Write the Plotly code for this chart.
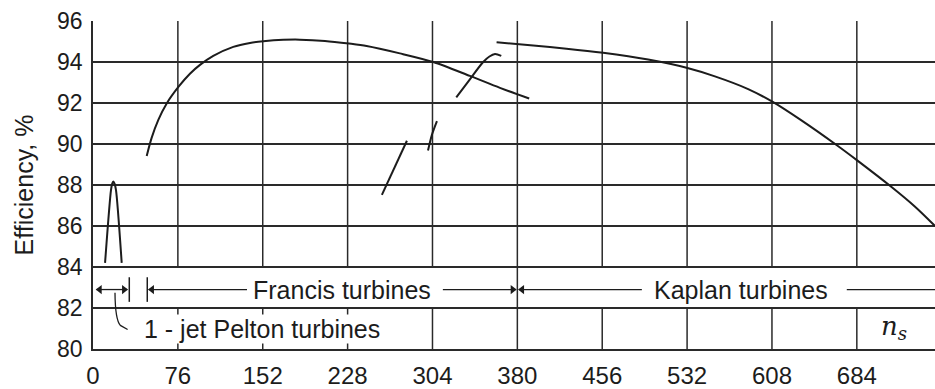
import plotly.graph_objects as go

# Specific speed grid and efficiency axis
x_ticks = [0, 76, 152, 228, 304, 380, 456, 532, 608, 684]
y_ticks = [80, 82, 84, 86, 88, 90, 92, 94, 96]

# 1-jet Pelton turbine efficiency
pelton_ns = [10.8, 16.1, 17.2, 18.2, 19.3, 20.6, 25.7]
pelton_eff = [84.2, 87.75, 88.07, 88.17, 88.07, 87.75, 84.2]

# Francis turbine envelope
francis_ns = [48.1, 52.5, 58.5, 66.0, 77.0, 86.8, 95.8, 107.7, 125.6, 140.6, 152.5, 170.4,
              185.3, 207.7, 229.2, 245.0, 274.8, 304.7, 337.5, 364.4, 390.6]
francis_eff = [89.42, 90.30, 91.18, 91.98, 92.82, 93.43, 93.86, 94.30, 94.74, 94.93, 95.01, 95.08,
               95.09, 95.03, 94.90, 94.78, 94.42, 94.00, 93.32, 92.74, 92.22]

# Short Francis / transition strokes
stroke_a_ns = [258.7, 281.1]
stroke_a_eff = [87.52, 90.16]
stroke_b_ns = [300, 303.5, 308]
stroke_b_eff = [89.68, 90.45, 91.12]
stroke_c_ns = [325.3, 337, 349.2, 355, 360, 365.6]
stroke_c_eff = [92.27, 93.12, 93.99, 94.27, 94.39, 94.3]

# Kaplan turbine envelope
kaplan_ns = [361.4, 394.2, 424.0, 456.8, 497.1, 531.5, 556.9, 586.7, 609.1, 634.4,
             665.8, 684.3, 715.1, 735.9, 754.0]
kaplan_eff = [94.96, 94.80, 94.65, 94.45, 94.12, 93.72, 93.30, 92.68, 92.04, 91.15,
              89.95, 89.20, 87.90, 86.95, 86.00]

# Range labels
range_labels = ["Francis turbines", "Kaplan turbines", "1 - jet Pelton turbines"]

X_MAX = 754
BAND_Y = 82.9
INK = "#1c1c1c"
GRID = "#2a2a2a"
FONT = "Liberation Sans, Arial, sans-serif"

fig = go.Figure()

curves = [
    (pelton_ns, pelton_eff),
    (francis_ns, francis_eff),
    (stroke_a_ns, stroke_a_eff),
    (stroke_b_ns, stroke_b_eff),
    (stroke_c_ns, stroke_c_eff),
    (kaplan_ns, kaplan_eff),
]
for xs, ys in curves:
    fig.add_trace(go.Scatter(
        x=xs, y=ys, mode="lines",
        line=dict(color=INK, width=2, shape="spline", smoothing=0.8),
        hoverinfo="skip", showlegend=False,
    ))

shapes = []
# vertical grid: full in the upper field, interrupted by the label band (82-84)
for v in x_ticks[1:]:
    spans = [(80, 96)] if v == 380 else [(84, 96), (80, 82)]
    for y0, y1 in spans:
        shapes.append(dict(type="line", x0=v, x1=v, y0=y0, y1=y1,
                           line=dict(color=GRID, width=1.5), layer="below"))

# dimension lines in the label band: (start, end)
band_lines = [(3.2, 30.6), (50.0, 137.9), (313.3, 378.6), (381.4, 491.5), (675, X_MAX)]
for x0, x1 in band_lines:
    shapes.append(dict(type="line", x0=x0, x1=x1, y0=BAND_Y, y1=BAND_Y,
                       line=dict(color=INK, width=1.3), layer="above"))
# bars marking the Pelton / Francis limits
for v in [32.5, 48.6]:
    shapes.append(dict(type="line", x0=v, x1=v, y0=82.3, y1=83.5,
                       line=dict(color=INK, width=1.5), layer="above"))
# leader from the Pelton arrow to its label
shapes.append(dict(type="path",
                   path="M 19.7,82.75 C 19.8,82.0 20.5,81.4 24.5,81.15 L 31,80.95",
                   line=dict(color=INK, width=1.3), layer="above"))
fig.update_layout(shapes=shapes)

# arrowheads on the dimension lines (marker centres sit just inside each tip)
left_heads = [6.0, 52.8, 384.2]
right_heads = [27.8, 375.8]
fig.add_trace(go.Scatter(
    x=left_heads, y=[BAND_Y] * len(left_heads), mode="markers",
    marker=dict(symbol="triangle-left", size=8, color=INK, line=dict(width=0)),
    hoverinfo="skip", showlegend=False, cliponaxis=False,
))
fig.add_trace(go.Scatter(
    x=right_heads, y=[BAND_Y] * len(right_heads), mode="markers",
    marker=dict(symbol="triangle-right", size=8, color=INK, line=dict(width=0)),
    hoverinfo="skip", showlegend=False, cliponaxis=False,
))

annotations = [
    dict(x=223.4, y=BAND_Y, text=range_labels[0]),
    dict(x=580, y=BAND_Y, text=range_labels[1]),
    dict(x=44.8, y=81.0, text=range_labels[2], xanchor="left", bgcolor="white", borderpad=0),
]
for a in annotations:
    a.update(xref="x", yref="y", showarrow=False,
             font=dict(size=25, color=INK, family=FONT))
annotations.append(dict(x=717, y=81.05, xref="x", yref="y",
                        text="<i>n</i><sub><i>s</i></sub>", showarrow=False,
                        font=dict(size=26, color=INK, family="DejaVu Serif, serif")))
fig.update_layout(annotations=annotations)

fig.update_layout(
    width=935, height=389,
    margin=dict(l=93, r=0, t=21, b=34),
    paper_bgcolor="white", plot_bgcolor="white",
    font=dict(family=FONT, color=INK),
    xaxis=dict(
        range=[0, X_MAX], tickvals=x_ticks, ticktext=[str(v) for v in x_ticks],
        showgrid=False, zeroline=False, showline=True, linecolor=GRID, linewidth=1.5,
        ticks="", tickfont=dict(size=24, family=FONT, color=INK), ticklabelstandoff=4,
    ),
    yaxis=dict(
        range=[80, 96], tickvals=y_ticks, showgrid=True, gridcolor=GRID, gridwidth=1.5,
        zeroline=False, showline=True, linecolor=GRID, linewidth=1.5,
        ticks="", tickfont=dict(size=23, family=FONT, color=INK), ticklabelstandoff=4,
        title=dict(text="Efficiency, %", font=dict(size=25, family=FONT, color=INK), standoff=16),
    ),
)

fig.write_html("out.html")
